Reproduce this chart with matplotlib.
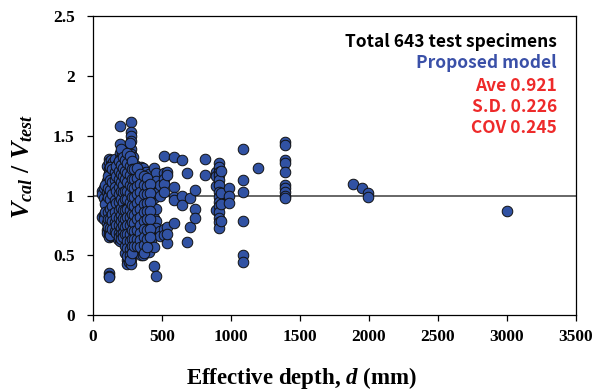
import matplotlib
matplotlib.use("Agg")
import numpy as np
import matplotlib.pyplot as plt

# effective depth d (mm) -> V_cal / V_test values read at that depth
core_depth = [65, 80, 100, 116, 135, 150, 165, 180, 200, 215, 230, 245, 260, 275,
              290, 310, 330, 350, 365, 385, 405, 425, 445, 460, 490]
core_ratio = [
    [1.04, 1.01, 0.82],
    [1.06, 0.98, 0.84, 0.80],
    [1.25, 1.12, 1.03, 0.96, 0.90, 0.77, 0.71, 0.69],
    [1.31, 1.28, 1.22, 1.19, 1.15, 1.11, 1.07, 1.02, 0.99, 0.95, 0.91, 0.88, 0.85,
     0.82, 0.79, 0.75, 0.72, 0.68, 0.65, 0.35, 0.33, 0.32],
    [1.30, 1.26, 1.20, 1.14, 1.08, 1.03, 0.97, 0.93, 0.87, 0.83, 0.77, 0.74, 0.70, 0.66],
    [1.28, 1.24, 1.17, 1.10, 1.05, 1.00, 0.94, 0.89, 0.81, 0.76, 0.72, 0.68],
    [1.31, 1.21, 1.13, 1.08, 1.02, 0.97, 0.90, 0.86, 0.79, 0.73, 0.67],
    [1.27, 1.18, 1.12, 1.05, 0.99, 0.92, 0.85, 0.78, 0.72, 0.68, 0.64],
    [1.58, 1.43, 1.36, 1.31, 1.25, 1.22, 1.16, 1.10, 1.04, 0.98, 0.94, 0.90, 0.84,
     0.80, 0.74, 0.70, 0.66, 0.62],
    [1.35, 1.29, 1.20, 1.14, 1.07, 1.01, 0.95, 0.87, 0.82, 0.77, 0.71, 0.66],
    [1.28, 1.19, 1.12, 1.06, 0.99, 0.91, 0.85, 0.78, 0.72, 0.67, 0.63],
    [1.33, 1.25, 1.16, 1.09, 1.02, 0.96, 0.90, 0.83, 0.76, 0.70, 0.61, 0.55, 0.50, 0.46, 0.43],
    [1.39, 1.30, 1.22, 1.14, 1.07, 1.00, 0.93, 0.86, 0.80, 0.73, 0.66, 0.59, 0.53, 0.48, 0.44],
    [1.62, 1.53, 1.50, 1.46, 1.39, 1.35, 1.27, 1.20, 1.12, 1.05, 0.98, 0.91, 0.84,
     0.78, 0.71, 0.64, 0.57, 0.51, 0.47, 0.43],
    [1.32, 1.24, 1.16, 1.09, 1.01, 0.94, 0.87, 0.80, 0.73, 0.66, 0.60, 0.55],
    [1.26, 1.18, 1.10, 1.03, 0.96, 0.88, 0.81, 0.75, 0.69, 0.63],
    [1.21, 1.13, 1.06, 0.99, 0.92, 0.85, 0.78, 0.73, 0.66, 0.60],
    [1.24, 1.17, 1.08, 1.01, 0.93, 0.86, 0.80, 0.73, 0.67, 0.61, 0.55, 0.50],
    [1.23, 1.19, 1.12, 1.04, 0.96, 0.89, 0.83, 0.77, 0.70, 0.64, 0.57, 0.50],
    [1.20, 1.12, 1.05, 0.99, 0.91, 0.84, 0.75, 0.68, 0.62, 0.55],
    [1.18, 1.11, 1.03, 0.97, 0.90, 0.83, 0.74, 0.67, 0.60, 0.53],
    [1.13, 1.07, 0.99, 0.92, 0.84, 0.77, 0.69, 0.63],
    [1.23, 1.14, 1.07, 0.98, 0.88, 0.81, 0.75, 0.57, 0.41],
    [1.19, 1.12, 1.02, 0.89, 0.79, 0.73, 0.33],
    [1.09, 1.00, 0.70, 0.66],
]

# specimens sitting between the columns above
mid_depth = [90, 108, 125, 142, 158, 172, 190, 207, 222, 237, 252, 268, 282,
             300, 320, 340, 375, 395, 415]
mid_ratio = [
    [1.09, 0.93, 0.86],
    [1.16, 1.06, 0.99, 0.86, 0.80, 0.74],
    [1.24, 1.13, 1.05, 0.97, 0.89, 0.80, 0.73, 0.67],
    [1.22, 1.11, 1.01, 0.91, 0.85, 0.79, 0.72],
    [1.20, 1.13, 1.07, 0.96, 0.86, 0.78, 0.70],
    [1.25, 1.16, 1.04, 0.94, 0.82, 0.75, 0.69],
    [1.29, 1.21, 1.14, 1.07, 1.01, 0.95, 0.88, 0.81, 0.75, 0.69, 0.65],
    [1.39, 1.26, 1.18, 1.11, 1.04, 0.97, 0.90, 0.84, 0.79, 0.73, 0.68, 0.64],
    [1.32, 1.23, 1.16, 1.09, 1.03, 0.95, 0.88, 0.81, 0.75, 0.69, 0.65],
    [1.30, 1.21, 1.14, 1.04, 0.97, 0.88, 0.80, 0.74, 0.68, 0.58, 0.52],
    [1.36, 1.27, 1.19, 1.11, 1.04, 0.97, 0.89, 0.82, 0.75, 0.68, 0.62, 0.56, 0.49],
    [1.44, 1.33, 1.25, 1.17, 1.09, 1.02, 0.95, 0.88, 0.82, 0.75, 0.68, 0.62, 0.55, 0.50, 0.46],
    [1.29, 1.22, 1.14, 1.07, 0.99, 0.92, 0.85, 0.78, 0.71, 0.64, 0.58, 0.52],
    [1.22, 1.14, 1.06, 0.99, 0.91, 0.84, 0.77, 0.70, 0.64, 0.58],
    [1.23, 1.15, 1.08, 1.01, 0.94, 0.87, 0.80, 0.71, 0.64, 0.58],
    [1.18, 1.10, 1.03, 0.96, 0.89, 0.82, 0.75, 0.69, 0.63, 0.57],
    [1.16, 1.09, 1.01, 0.93, 0.86, 0.79, 0.72, 0.65, 0.59, 0.52],
    [1.15, 1.08, 1.01, 0.94, 0.87, 0.80, 0.71, 0.64, 0.57],
    [1.10, 1.02, 0.95, 0.87, 0.80, 0.72, 0.65],
]

# sparser, deeper specimens
deep_depth = [520, 540, 590, 650, 680, 705, 740, 815, 890, 915, 930, 990, 1090,
              1195, 1395, 1885, 1955, 1995, 3000]
deep_ratio = [
    [1.33, 1.19, 1.14, 1.10, 1.03, 0.72, 0.67],
    [1.20, 1.17, 0.74, 0.60, 0.68],
    [1.32, 1.07, 0.99, 0.96, 0.77],
    [1.30, 1.00, 0.92],
    [1.19, 0.61],
    [0.98, 0.74],
    [1.05, 0.89, 0.81],
    [1.31, 1.17],
    [1.20, 1.16, 1.08, 0.88],
    [1.27, 1.24, 1.20, 1.17, 1.13, 1.09, 1.03, 0.99, 0.95, 0.91, 0.86, 0.81, 0.78, 0.73],
    [1.21, 1.02, 0.93, 0.79],
    [1.06, 1.00, 0.94],
    [1.39, 1.13, 1.03, 0.79, 0.50, 0.44],
    [1.23],
    [1.45, 1.42, 1.30, 1.27, 1.20, 1.09, 1.06, 1.03, 1.00, 0.98],
    [1.10],
    [1.06],
    [1.02, 0.99],
    [0.87],
]

stats_lines = ["Total 643 test specimens", "Proposed model",
               "Ave 0.921", "S.D. 0.226", "COV 0.245"]
x_ticks = [0, 500, 1000, 1500, 2000, 2500, 3000, 3500]
y_ticks = [0, 0.5, 1, 1.5, 2, 2.5]

d_all, r_all = [], []
for depths, ratios in ((core_depth, core_ratio), (mid_depth, mid_ratio),
                       (deep_depth, deep_ratio)):
    for d, rs in zip(depths, ratios):
        d_all += [d] * len(rs)
        r_all += rs
d_all = np.array(d_all)
r_all = np.array(r_all)

plt.rcParams["mathtext.fontset"] = "custom"
plt.rcParams["mathtext.rm"] = "Liberation Serif:bold"
plt.rcParams["mathtext.it"] = "Liberation Serif:bold:italic"
plt.rcParams["mathtext.bf"] = "Liberation Serif:bold"

fig = plt.figure(figsize=(5.97, 3.90), dpi=100)
ax = fig.add_axes([0.1553, 0.1923, 0.8090, 0.7654])

ax.axhline(1, color="#5a5a5a", lw=1.3, zorder=1)
ax.scatter(d_all, r_all, s=58, c="#3152a3", edgecolors="#111111",
           linewidths=0.7, zorder=3)

ax.set_xlim(0, 3500)
ax.set_ylim(0, 2.5)
ax.set_xticks(x_ticks)
ax.set_yticks(y_ticks)
ax.set_xticklabels([str(t) for t in x_ticks])
ax.set_yticklabels(["0", "0.5", "1", "1.5", "2", "2.5"])
ax.tick_params(direction="out", length=4, width=0.9, labelsize=12.5)
ax.tick_params(axis="x", pad=6)
ax.tick_params(axis="y", pad=9)
for lab in ax.get_xticklabels() + ax.get_yticklabels():
    lab.set_fontfamily("Liberation Serif")
    lab.set_fontweight("bold")
for sp in ax.spines.values():
    sp.set_linewidth(0.9)

fig.text(301 / 597, 0.03, r"Effective depth, $d$ (mm)", ha="center", va="center",
         fontsize=16.5, fontfamily="Liberation Serif", fontweight="bold")
fig.text(22 / 597, 0.574, r"$V_{cal}\ /\ V_{test}$", ha="center", va="center",
         rotation=90, fontsize=18.5)

colors = ["black", "#3a50a8", "#ee2a2a", "#ee2a2a", "#ee2a2a"]
ys = [0.9146, 0.844, 0.767, 0.697, 0.6265]
for s, c, y in zip(stats_lines, colors, ys):
    ax.text(0.961, y, s, transform=ax.transAxes, ha="right", va="center",
            color=c, fontsize=12.5, fontweight="bold",
            fontfamily=["Noto Sans CJK KR", "DejaVu Sans"])

fig.savefig("out.png", dpi=100)
